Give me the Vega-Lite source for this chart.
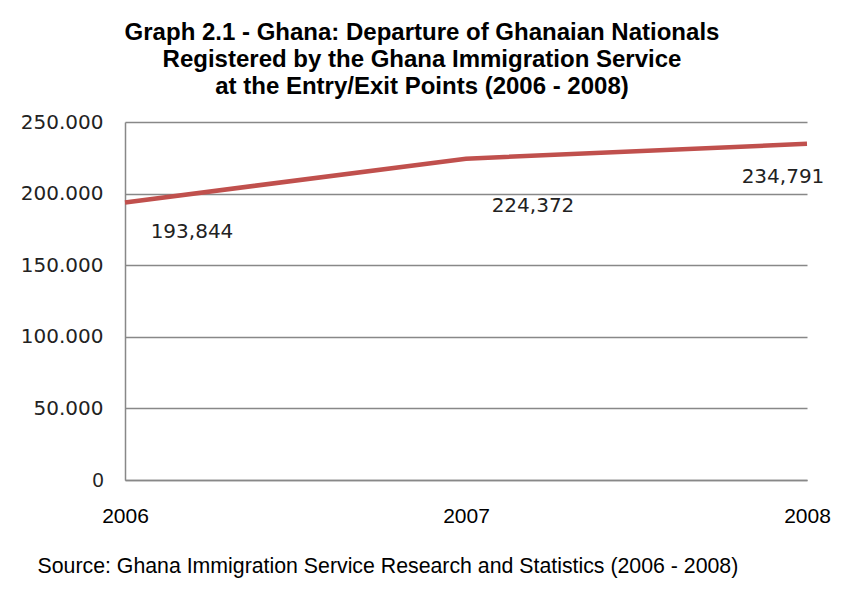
{
  "$schema": "https://vega.github.io/schema/vega-lite/v6.json",
  "width": 682,
  "height": 358,
  "autosize": "none",
  "padding": {"left": 125, "top": 122, "right": 44, "bottom": 115},
  "background": "white",
  "config": {"view": {"stroke": null}},
  "title": {
    "text": ["Graph 2.1 - Ghana:  Departure of Ghanaian Nationals", "Registered by the Ghana Immigration Service", "at the Entry/Exit Points (2006 - 2008)"],
    "font": "Liberation Sans",
    "fontWeight": "bold",
    "fontSize": 24,
    "lineHeight": 27,
    "anchor": "middle",
    "dx": -44,
    "offset": 13,
    "color": "#000000"
  },
  "data": {
    "values": [
      {"year": "2006", "departures": 193844},
      {"year": "2007", "departures": 224372},
      {"year": "2008", "departures": 234791}
    ]
  },
  "encoding": {
    "x": {
      "field": "year",
      "type": "ordinal",
      "sort": null,
      "scale": {"type": "point", "padding": 0},
      "axis": {
        "labelFont": "Liberation Sans",
        "labelFontSize": 21,
        "labelColor": "#000000",
        "labelPadding": 25,
        "labelAngle": 0,
        "labelFlush": false,
        "labelOverlap": false,
        "ticks": false,
        "tickSize": 0,
        "grid": false,
        "domain": true,
        "domainColor": "#888888",
        "domainWidth": 1.5,
        "title": "Source: Ghana Immigration Service Research and Statistics (2006 - 2008)",
        "titleFont": "Liberation Sans",
        "titleFontWeight": "normal",
        "titleFontSize": 21.3,
        "titleColor": "#000000",
        "titleAnchor": "start",
        "titleAlign": "left",
        "titleBaseline": "middle",
        "titleX": -88,
        "titleY": 86
      }
    },
    "y": {
      "field": "departures",
      "type": "quantitative",
      "scale": {"domain": [0, 250000], "nice": false},
      "axis": {
        "values": [0, 50000, 100000, 150000, 200000, 250000],
        "labelExpr": "datum.value == 0 ? '0' : format(datum.value / 1000, 'd') + '.000'",
        "labelFont": {"condition": {"test": "datum.value == 0", "value": "Liberation Sans"}, "value": "DejaVu Sans"},
        "labelFontSize": 20,
        "labelColor": "#222222",
        "labelPadding": 22,
        "labelOverlap": false,
        "ticks": false,
        "tickSize": 0,
        "grid": true,
        "gridColor": "#888888",
        "gridWidth": 1.5,
        "domain": true,
        "domainColor": "#888888",
        "domainWidth": 1.5,
        "title": null
      }
    }
  },
  "layer": [
    {
      "mark": {"type": "line", "color": "#C0504D", "strokeWidth": 4.5}
    },
    {
      "transform": [{"filter": "datum.year == '2006'"}],
      "mark": {"type": "text", "font": "DejaVu Sans", "fontSize": 20, "color": "#222222", "dx": 67, "dy": 30},
      "encoding": {"text": {"field": "departures", "type": "quantitative", "format": ","}}
    },
    {
      "transform": [{"filter": "datum.year == '2007'"}],
      "mark": {"type": "text", "font": "DejaVu Sans", "fontSize": 20, "color": "#222222", "dx": 67, "dy": 47},
      "encoding": {"text": {"field": "departures", "type": "quantitative", "format": ","}}
    },
    {
      "transform": [{"filter": "datum.year == '2008'"}],
      "mark": {"type": "text", "font": "DejaVu Sans", "fontSize": 20, "color": "#222222", "dx": -24, "dy": 33},
      "encoding": {"text": {"field": "departures", "type": "quantitative", "format": ","}}
    }
  ]
}
